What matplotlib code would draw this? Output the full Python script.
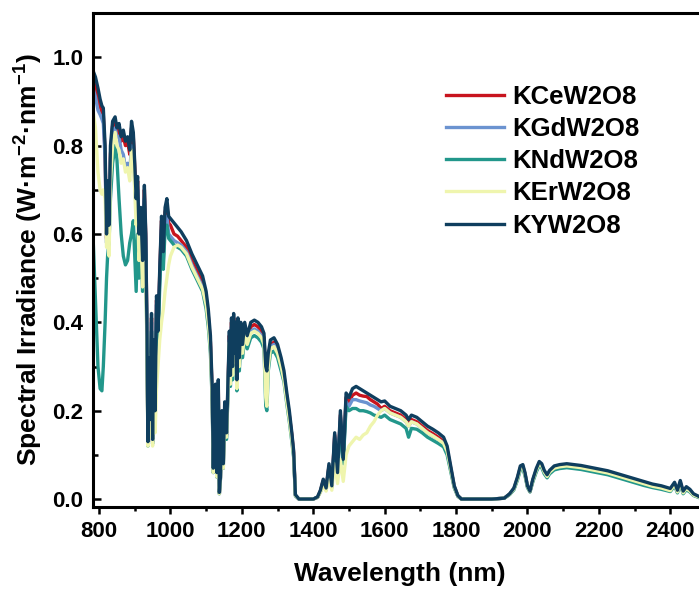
import numpy as np
import matplotlib.pyplot as plt
from matplotlib.ticker import MultipleLocator, FormatStrFormatter

plt.rcParams['font.family'] = ['Liberation Sans', 'DejaVu Sans']
plt.rcParams['font.weight'] = 'bold'
plt.rcParams['mathtext.fontset'] = 'custom'
plt.rcParams['mathtext.rm'] = 'Liberation Sans:bold'
plt.rcParams['mathtext.bf'] = 'Liberation Sans:bold'
plt.rcParams['mathtext.default'] = 'bf'

# Wavelength grid (nm) shared by all five spectra
wavelength = [
    783, 790, 797, 803, 808, 812, 817, 821, 824, 828, 832, 838, 845, 850, 856, 862, 868, 874, 880, 886,
    891, 896, 900, 904, 908, 912, 917, 922, 927, 931, 934, 937, 940, 943, 947, 950, 953, 957, 961, 965,
    970, 975, 980, 985, 990, 995, 1000, 1010, 1020, 1030, 1045, 1060, 1075, 1090, 1100, 1106, 1112, 1117, 1120, 1123,
    1126, 1130, 1134, 1137, 1140, 1144, 1148, 1152, 1157, 1161, 1165, 1168, 1171, 1174, 1177, 1180, 1183, 1186, 1189, 1193,
    1197, 1202, 1208, 1215, 1225, 1235, 1245, 1255, 1262, 1267, 1270, 1274, 1280, 1290, 1300, 1310, 1318, 1326, 1333, 1340,
    1345, 1350, 1360, 1380, 1400, 1412, 1420, 1428, 1436, 1444, 1452, 1460, 1468, 1476, 1484, 1492, 1500, 1510, 1520, 1530,
    1540, 1550, 1560, 1570, 1580, 1590, 1600, 1615, 1630, 1645, 1660, 1667, 1675, 1690, 1705, 1720, 1735, 1750, 1765, 1775,
    1785, 1795, 1805, 1815, 1850, 1900, 1935, 1950, 1962, 1972, 1980, 1987, 1993, 2000, 2007, 2015, 2025, 2033, 2040, 2047,
    2055, 2062, 2075, 2090, 2110, 2130, 2150, 2175, 2200, 2225, 2250, 2275, 2300, 2325, 2350, 2375, 2400, 2412, 2420, 2428,
    2436, 2445, 2455, 2465, 2475, 2485, 2500,
]

kce = [
    0.95, 0.93, 0.90, 0.89, 0.875, 0.87, 0.78, 0.59, 0.70, 0.60, 0.78, 0.845, 0.85, 0.83, 0.835, 0.81, 0.82, 0.80, 0.81, 0.78,
    0.84, 0.82, 0.75, 0.67, 0.72, 0.59, 0.65, 0.53, 0.70, 0.59, 0.39, 0.125, 0.31, 0.17, 0.41, 0.13, 0.35, 0.19, 0.45, 0.37,
    0.51, 0.63, 0.55, 0.65, 0.665, 0.625, 0.62, 0.60, 0.595, 0.585, 0.57, 0.54, 0.515, 0.49, 0.455, 0.415, 0.355, 0.24, 0.065, 0.21,
    0.25, 0.055, 0.26, 0.013, 0.048, 0.19, 0.075, 0.21, 0.145, 0.25, 0.37, 0.27, 0.40, 0.29, 0.41, 0.32, 0.39, 0.26, 0.40, 0.31,
    0.39, 0.34, 0.39, 0.36, 0.39, 0.395, 0.39, 0.38, 0.365, 0.28, 0.27, 0.32, 0.35, 0.355, 0.34, 0.31, 0.28, 0.23, 0.19, 0.145,
    0.105, 0.008, 0.0, 0.0, 0.0, 0.004, 0.018, 0.042, 0.023, 0.075, 0.028, 0.145, 0.058, 0.19, 0.085, 0.23, 0.22, 0.235, 0.24, 0.235,
    0.233, 0.232, 0.225, 0.22, 0.215, 0.205, 0.21, 0.20, 0.195, 0.19, 0.18, 0.17, 0.18, 0.175, 0.165, 0.155, 0.148, 0.14, 0.13, 0.112,
    0.07, 0.028, 0.007, 0.0, 0.0, 0.0, 0.002, 0.011, 0.023, 0.047, 0.071, 0.074, 0.057, 0.028, 0.017, 0.042, 0.066, 0.081, 0.076, 0.061,
    0.051, 0.061, 0.071, 0.074, 0.076, 0.074, 0.072, 0.068, 0.064, 0.060, 0.054, 0.048, 0.042, 0.036, 0.030, 0.026, 0.020, 0.034, 0.017, 0.038,
    0.015, 0.025, 0.019, 0.010, 0.006, 0.003, 0.0,
]

kgd = [
    0.93, 0.91, 0.88, 0.87, 0.86, 0.85, 0.77, 0.58, 0.69, 0.59, 0.77, 0.835, 0.84, 0.82, 0.82, 0.79, 0.78, 0.75, 0.76, 0.74,
    0.80, 0.79, 0.72, 0.65, 0.70, 0.57, 0.63, 0.52, 0.68, 0.58, 0.38, 0.125, 0.30, 0.17, 0.40, 0.13, 0.34, 0.19, 0.44, 0.36,
    0.50, 0.61, 0.54, 0.63, 0.64, 0.60, 0.595, 0.585, 0.58, 0.575, 0.56, 0.53, 0.505, 0.48, 0.445, 0.405, 0.345, 0.23, 0.06, 0.20,
    0.24, 0.05, 0.25, 0.012, 0.045, 0.185, 0.07, 0.205, 0.14, 0.245, 0.36, 0.265, 0.39, 0.285, 0.40, 0.315, 0.38, 0.255, 0.39, 0.30,
    0.38, 0.335, 0.38, 0.355, 0.38, 0.385, 0.38, 0.37, 0.355, 0.26, 0.25, 0.31, 0.345, 0.35, 0.335, 0.305, 0.275, 0.225, 0.185, 0.14,
    0.10, 0.008, 0.0, 0.0, 0.0, 0.004, 0.017, 0.04, 0.022, 0.072, 0.027, 0.14, 0.056, 0.185, 0.082, 0.22, 0.21, 0.225, 0.225, 0.222,
    0.22, 0.218, 0.213, 0.21, 0.205, 0.20, 0.205, 0.195, 0.19, 0.185, 0.175, 0.165, 0.175, 0.17, 0.16, 0.15, 0.143, 0.135, 0.126, 0.108,
    0.068, 0.027, 0.007, 0.0, 0.0, 0.0, 0.002, 0.011, 0.023, 0.046, 0.07, 0.073, 0.056, 0.028, 0.017, 0.042, 0.066, 0.08, 0.075, 0.061,
    0.051, 0.061, 0.07, 0.073, 0.075, 0.073, 0.071, 0.067, 0.063, 0.059, 0.053, 0.047, 0.041, 0.035, 0.029, 0.025, 0.019, 0.033, 0.016, 0.037,
    0.014, 0.024, 0.018, 0.009, 0.006, 0.003, 0.0,
]

knd = [
    0.60, 0.45, 0.30, 0.25, 0.245, 0.30, 0.40, 0.50, 0.55, 0.58, 0.68, 0.76, 0.80, 0.77, 0.68, 0.60, 0.55, 0.53, 0.54, 0.58,
    0.60, 0.63, 0.55, 0.47, 0.60, 0.50, 0.58, 0.47, 0.63, 0.54, 0.36, 0.12, 0.29, 0.16, 0.38, 0.125, 0.33, 0.18, 0.42, 0.35,
    0.48, 0.59, 0.52, 0.61, 0.62, 0.59, 0.585, 0.575, 0.57, 0.565, 0.55, 0.52, 0.495, 0.47, 0.43, 0.39, 0.33, 0.22, 0.06, 0.19,
    0.23, 0.05, 0.24, 0.012, 0.045, 0.175, 0.07, 0.195, 0.135, 0.235, 0.35, 0.255, 0.375, 0.27, 0.385, 0.30, 0.365, 0.245, 0.375, 0.29,
    0.365, 0.32, 0.365, 0.34, 0.365, 0.37, 0.365, 0.355, 0.34, 0.21, 0.20, 0.29, 0.33, 0.335, 0.32, 0.29, 0.265, 0.215, 0.175, 0.13,
    0.095, 0.007, 0.0, 0.0, 0.0, 0.004, 0.016, 0.038, 0.021, 0.07, 0.026, 0.13, 0.054, 0.175, 0.08, 0.21, 0.20, 0.205, 0.205, 0.20,
    0.20, 0.198, 0.195, 0.19, 0.188, 0.185, 0.19, 0.18, 0.175, 0.17, 0.16, 0.14, 0.16, 0.158, 0.15, 0.14, 0.133, 0.126, 0.118, 0.10,
    0.063, 0.025, 0.006, 0.0, 0.0, 0.0, 0.002, 0.01, 0.021, 0.043, 0.066, 0.069, 0.053, 0.026, 0.016, 0.039, 0.062, 0.076, 0.071, 0.057,
    0.048, 0.057, 0.066, 0.069, 0.071, 0.069, 0.067, 0.063, 0.059, 0.055, 0.049, 0.043, 0.037, 0.031, 0.026, 0.022, 0.017, 0.030, 0.014, 0.033,
    0.012, 0.021, 0.016, 0.008, 0.005, 0.002, 0.0,
]

ker = [
    0.88, 0.84, 0.74, 0.70, 0.69, 0.70, 0.68, 0.57, 0.60, 0.55, 0.72, 0.80, 0.83, 0.80, 0.79, 0.76, 0.77, 0.74, 0.75, 0.72,
    0.79, 0.76, 0.70, 0.62, 0.66, 0.54, 0.60, 0.48, 0.62, 0.52, 0.34, 0.12, 0.26, 0.14, 0.33, 0.12, 0.22, 0.15, 0.25, 0.30,
    0.36, 0.40, 0.43, 0.47, 0.50, 0.53, 0.55, 0.57, 0.575, 0.57, 0.555, 0.525, 0.50, 0.475, 0.44, 0.40, 0.34, 0.225, 0.06, 0.195,
    0.235, 0.05, 0.245, 0.012, 0.045, 0.18, 0.07, 0.20, 0.14, 0.24, 0.355, 0.26, 0.385, 0.28, 0.395, 0.31, 0.375, 0.25, 0.385, 0.30,
    0.375, 0.33, 0.375, 0.35, 0.375, 0.38, 0.375, 0.365, 0.35, 0.23, 0.21, 0.30, 0.34, 0.345, 0.33, 0.30, 0.27, 0.22, 0.18, 0.135,
    0.10, 0.008, 0.0, 0.0, 0.0, 0.004, 0.015, 0.03, 0.018, 0.05, 0.02, 0.08, 0.035, 0.09, 0.04, 0.10, 0.12, 0.13, 0.14, 0.135,
    0.145, 0.15, 0.165, 0.175, 0.19, 0.20, 0.205, 0.195, 0.19, 0.185, 0.175, 0.165, 0.175, 0.17, 0.16, 0.15, 0.143, 0.135, 0.126, 0.108,
    0.068, 0.027, 0.007, 0.0, 0.0, 0.0, 0.002, 0.011, 0.023, 0.046, 0.07, 0.073, 0.056, 0.028, 0.017, 0.042, 0.066, 0.08, 0.075, 0.061,
    0.051, 0.061, 0.07, 0.073, 0.075, 0.073, 0.071, 0.067, 0.063, 0.059, 0.053, 0.047, 0.041, 0.035, 0.029, 0.025, 0.019, 0.033, 0.016, 0.037,
    0.014, 0.024, 0.018, 0.009, 0.006, 0.003, 0.0,
]

kyw = [
    0.97, 0.955, 0.93, 0.905, 0.89, 0.885, 0.80, 0.60, 0.72, 0.62, 0.80, 0.855, 0.865, 0.84, 0.85, 0.82, 0.835, 0.81, 0.82, 0.79,
    0.855, 0.83, 0.76, 0.68, 0.73, 0.60, 0.66, 0.54, 0.71, 0.60, 0.40, 0.13, 0.32, 0.18, 0.42, 0.135, 0.36, 0.20, 0.46, 0.38,
    0.52, 0.64, 0.56, 0.66, 0.68, 0.64, 0.635, 0.625, 0.615, 0.605, 0.585, 0.555, 0.53, 0.505, 0.47, 0.43, 0.37, 0.25, 0.07, 0.22,
    0.26, 0.06, 0.27, 0.015, 0.05, 0.20, 0.08, 0.22, 0.15, 0.26, 0.38, 0.28, 0.41, 0.30, 0.42, 0.33, 0.40, 0.27, 0.41, 0.32,
    0.40, 0.35, 0.40, 0.37, 0.40, 0.405, 0.40, 0.39, 0.375, 0.30, 0.29, 0.33, 0.36, 0.365, 0.35, 0.32, 0.29, 0.24, 0.20, 0.15,
    0.11, 0.01, 0.0, 0.0, 0.0, 0.005, 0.02, 0.045, 0.025, 0.08, 0.03, 0.15, 0.06, 0.20, 0.09, 0.24, 0.23, 0.25, 0.255, 0.25,
    0.245, 0.24, 0.235, 0.23, 0.225, 0.22, 0.222, 0.21, 0.205, 0.20, 0.19, 0.18, 0.19, 0.185, 0.175, 0.165, 0.158, 0.15, 0.14, 0.12,
    0.075, 0.03, 0.008, 0.0, 0.0, 0.0, 0.002, 0.012, 0.025, 0.05, 0.075, 0.078, 0.06, 0.03, 0.018, 0.045, 0.07, 0.085, 0.08, 0.065,
    0.055, 0.065, 0.075, 0.078, 0.08, 0.078, 0.076, 0.072, 0.068, 0.064, 0.058, 0.052, 0.046, 0.040, 0.034, 0.030, 0.024, 0.038, 0.020, 0.042,
    0.018, 0.028, 0.022, 0.012, 0.008, 0.004, 0.0,
]

labels = ['KCeW2O8', 'KGdW2O8', 'KNdW2O8', 'KErW2O8', 'KYW2O8']
colors = ['#C8141E', '#6B93D0', '#22978B', '#EFF5AE', '#0F3E5E']
series = [kce, kgd, knd, ker, kyw]

fig = plt.figure(figsize=(6.99, 5.93), dpi=100)
ax = fig.add_axes([0.133, 0.145, 0.877, 0.833])

for vals, lab, col in zip(series, labels, colors):
    ax.plot(wavelength, vals, color=col, lw=2.4, label=lab)

ax.set_xlim(783, 2500)
ax.set_ylim(-0.018, 1.1)

ax.xaxis.set_major_locator(MultipleLocator(200))
ax.xaxis.set_minor_locator(MultipleLocator(100))
ax.yaxis.set_major_locator(MultipleLocator(0.2))
ax.yaxis.set_minor_locator(MultipleLocator(0.1))
ax.yaxis.set_major_formatter(FormatStrFormatter('%.1f'))

ax.tick_params(axis='x', which='major', direction='out', length=5, width=1.8, labelsize=16, pad=5)
ax.tick_params(axis='x', which='minor', direction='out', length=3, width=1.8)
ax.tick_params(axis='y', which='major', direction='in', length=6, width=1.8, labelsize=16, pad=7)
ax.tick_params(axis='y', which='minor', direction='in', length=3.5, width=1.8)
for lab in ax.get_xticklabels() + ax.get_yticklabels():
    lab.set_fontweight('bold')

for sp in ax.spines.values():
    sp.set_linewidth(2.2)

ax.set_xlabel('Wavelength (nm)', fontsize=19, fontweight='bold')
ax.set_ylabel('Spectral Irradiance (W·m$^{-2}$·nm$^{-1}$)', fontsize=19, fontweight='bold')
ax.xaxis.set_label_coords(0.5, -0.112)
ax.yaxis.set_label_coords(-0.078, 0.5)

leg = ax.legend(loc='upper left', bbox_to_anchor=(0.576, 0.855), frameon=False,
                fontsize=18.5, handlelength=2.26, handletextpad=0.31, labelspacing=0.32,
                borderpad=0, borderaxespad=0)
for t in leg.get_texts():
    t.set_fontweight('bold')

fig.savefig('out.png', dpi=100)
